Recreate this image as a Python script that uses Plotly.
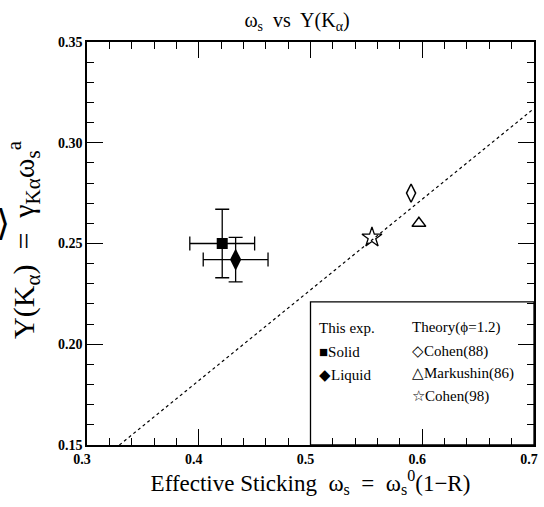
import plotly.graph_objects as go

# ---- data ----
solid_x = [0.421]
solid_y = [0.250]
solid_ex = [0.029]
solid_ey = [0.017]

liquid_x = [0.433]
liquid_y = [0.242]
liquid_ex = [0.029]
liquid_ey = [0.011]

cohen88_x = [0.590]
cohen88_y = [0.275]
markushin86_x = [0.597]
markushin86_y = [0.260]
cohen98_x = [0.555]
cohen98_y = [0.253]

theory_line_x = [0.329, 0.70]
theory_line_y = [0.150, 0.317]

x_ticks = [0.3, 0.4, 0.5, 0.6, 0.7]
y_ticks = [0.15, 0.20, 0.25, 0.30, 0.35]

FONT = "Liberation Serif"
fig = go.Figure()

fig.add_trace(go.Scatter(x=theory_line_x, y=theory_line_y, mode="lines",
                         line=dict(color="black", width=1.2, dash="dot"), showlegend=False))

fig.add_trace(go.Scatter(x=solid_x, y=solid_y, mode="markers",
                         marker=dict(symbol="square", size=11, color="black"),
                         error_x=dict(type="data", array=solid_ex, color="black", thickness=1.3, width=7),
                         error_y=dict(type="data", array=solid_ey, color="black", thickness=1.3, width=7),
                         showlegend=False))
fig.add_trace(go.Scatter(x=liquid_x, y=liquid_y, mode="markers",
                         marker=dict(symbol="diamond-tall", size=16, color="black"),
                         error_x=dict(type="data", array=liquid_ex, color="black", thickness=1.3, width=7),
                         error_y=dict(type="data", array=liquid_ey, color="black", thickness=1.3, width=7),
                         showlegend=False))
fig.add_trace(go.Scatter(x=cohen88_x, y=cohen88_y, mode="markers",
                         marker=dict(symbol="diamond-tall-open", size=13, color="black", line=dict(width=1.5)),
                         showlegend=False))
fig.add_trace(go.Scatter(x=markushin86_x, y=markushin86_y, mode="markers",
                         marker=dict(symbol="triangle-up-open", size=12, color="black", line=dict(width=1.5)),
                         showlegend=False))
fig.add_trace(go.Scatter(x=cohen98_x, y=cohen98_y, mode="markers",
                         marker=dict(symbol="star-open", size=15, color="black", line=dict(width=1.3)),
                         showlegend=False))

# legend box
fig.add_shape(type="rect", xref="x", yref="y", x0=0.5, x1=0.7, y0=0.15, y1=0.221,
              line=dict(color="black", width=1.3), fillcolor="white", layer="below")

leg_font = dict(family=FONT, size=15, color="black")
legend_items = [
    (0.506, 0.2083, "This exp."),
    (0.506, 0.1962, "■Solid"),
    (0.506, 0.1848, "◆Liquid"),
    (0.589, 0.2083, "Theory(ϕ=1.2)"),
    (0.589, 0.1965, "◇Cohen(88)"),
    (0.589, 0.1855, "△Markushin(86)"),
    (0.589, 0.1742, "☆Cohen(98)"),
]
for lx, ly, txt in legend_items:
    fig.add_annotation(x=lx, y=ly, xref="x", yref="y", text=txt, showarrow=False,
                       xanchor="left", yanchor="middle", font=leg_font)

# y axis title as annotation (top end aligned with the reference)
fig.add_annotation(x=-0.142, y=0.762, xref="paper", yref="paper",
                   text="Y(K<sub>α</sub>)  =  γ<sub>Kα</sub>ω<sub>s</sub><sup>a</sup>",
                   textangle=-90, showarrow=False, xanchor="center", yanchor="top",
                   font=dict(family=FONT, size=30, color="black"))
# clipped bracket glyph at the far left edge
fig.add_annotation(x=-0.188, y=0.553, xref="paper", yref="paper", text="⟩",
                   showarrow=False, xanchor="center", yanchor="middle",
                   font=dict(family="DejaVu Sans", size=36, color="black"))

axis_common = dict(showgrid=False, zeroline=False, showline=True, linecolor="black", linewidth=1.5,
                   mirror="allticks", ticks="inside", ticklen=16, tickwidth=1.3, tickcolor="black",
                   tickfont=dict(family=FONT, size=14, color="black", weight="bold"))

fig.update_xaxes(range=[0.3, 0.7], tickvals=x_ticks, ticktext=[f"{v:.1f}" for v in x_ticks],
                 ticklabelshift=-5, ticklabeloverflow="allow",
                 minor=dict(ticks="inside", dtick=0.02, ticklen=7, tickwidth=1.2, tickcolor="black"),
                 title=dict(text="Effective Sticking  ω<sub>s</sub>  =  ω<sub>s</sub><sup>0</sup>(1−R)",
                            font=dict(family=FONT, size=23, color="black"), standoff=9),
                 **axis_common)
fig.update_yaxes(range=[0.15, 0.35], tickvals=y_ticks, ticktext=[f"{v:.2f}" for v in y_ticks],
                 minor=dict(ticks="inside", dtick=0.01, ticklen=7, tickwidth=1.2, tickcolor="black"),
                 **axis_common)

fig.update_layout(
    width=544, height=507,
    margin=dict(l=87, r=6, t=42, b=62),
    paper_bgcolor="white", plot_bgcolor="white",
    title=dict(text="ω<sub>s</sub>  vs  Y(K<sub>α</sub>)", x=0.546, xanchor="center", y=0.9606, yanchor="middle",
               font=dict(family=FONT, size=20, color="black")),
    font=dict(family=FONT, color="black"),
)

fig.write_html(
    "out.html", config={"displayModeBar": False},
    post_script=("document.documentElement.style.overflow='hidden';"
                 "document.body.style.margin='0px';document.body.style.overflow='hidden';"
                 "var d=document.querySelector('.plotly-graph-div');if(d){d.style.overflow='hidden';}"))
